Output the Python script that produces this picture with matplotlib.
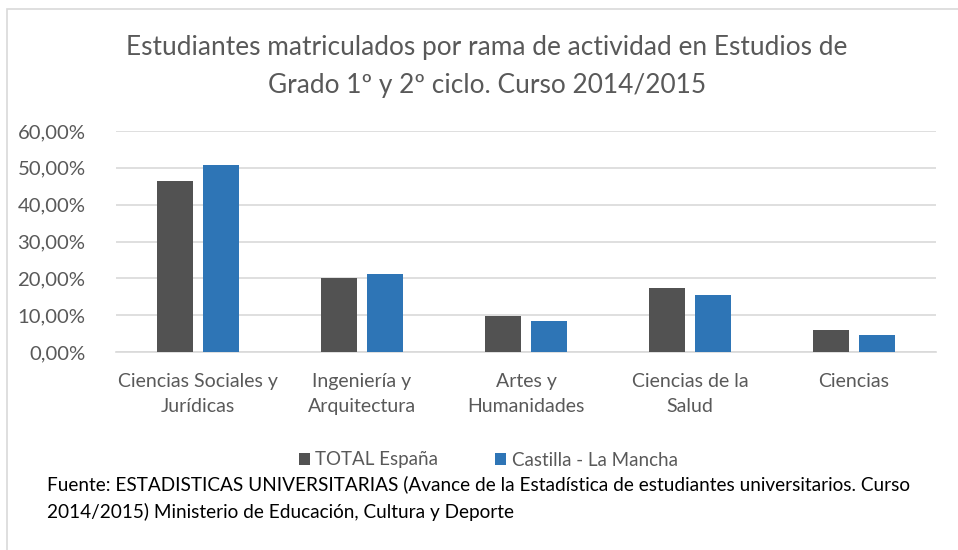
import numpy as np
import matplotlib.pyplot as plt
from matplotlib.patches import Rectangle

plt.rcParams['font.family'] = ['Lato', 'DejaVu Sans']

# -------------------------------
# Data
# -------------------------------
categories = ["Ciencias Sociales y\nJurídicas", "Ingeniería y\nArquitectura",
              "Artes y\nHumanidades", "Ciencias de la\nSalud", "Ciencias"]
total_espana = [0.465, 0.202, 0.099, 0.174, 0.059]
castilla_lm = [0.509, 0.211, 0.083, 0.154, 0.045]
yticks = [0.0, 0.1, 0.2, 0.3, 0.4, 0.5, 0.6]

title = ("Estudiantes matriculados por rama de actividad en Estudios de\n"
         "Grado 1º y 2º ciclo. Curso 2014/2015")
source = ("Fuente: ESTADISTICAS UNIVERSITARIAS (Avance de la Estadística de estudiantes universitarios. Curso\n"
          "2014/2015) Ministerio de Educación, Cultura y Deporte")

grey_txt = "#595959"
c_total = "#525252"
c_clm = "#2E75B6"

# -------------------------------
# Figure
# -------------------------------
W, H = 958, 550
fig = plt.figure(figsize=(W / 100, H / 100), dpi=100)

# chart frame (cropped on right/bottom)
fig.patches.append(Rectangle((7 / W, -0.1), 1.2, 1 - 9 / H + 0.1, transform=fig.transFigure,
                             fill=False, edgecolor="#d9d9d9", lw=1.2))

ax = fig.add_axes([116 / W, (H - 352) / H, (936 - 116) / W, (352 - 131) / H])

x = np.arange(len(categories))
bw = 0.222
off = 0.141
ax.bar(x - off, total_espana, bw, color=c_total, label="TOTAL España", zorder=3)
ax.bar(x + off, castilla_lm, bw, color=c_clm, label="Castilla - La Mancha", zorder=3)

ax.set_xlim(-0.5, len(categories) - 0.5)
ax.set_ylim(0, 0.6)
ax.set_yticks(yticks)
ax.set_yticklabels([f"{v*100:.2f}%".replace(".", ",") for v in yticks])
ax.yaxis.grid(True, color="#d9d9d9", lw=1.2, zorder=0)
for s in ["top", "right", "left"]:
    ax.spines[s].set_visible(False)
ax.spines["bottom"].set_color("#d9d9d9")
ax.spines["bottom"].set_linewidth(1.2)
ax.tick_params(axis="both", length=0, colors=grey_txt)
ax.tick_params(axis="y", pad=22, labelsize=14.6)
ax.set_xticks(x)
ax.set_xticklabels(categories, linespacing=1.55)
ax.tick_params(axis="x", pad=15, labelsize=14)

fig.text(487 / W, 1 - 66 / H, title, ha="center", va="center", fontsize=18.9,
         color=grey_txt, linespacing=1.65)

ax.legend(loc="center", bbox_to_anchor=(488 / W, 1 - 460 / H), bbox_transform=fig.transFigure,
          ncol=2, frameon=False, fontsize=13.5, labelcolor=grey_txt, handlelength=0.6,
          handleheight=0.6, handletextpad=0.3, columnspacing=3.0)

fig.text(47 / W, 1 - 498 / H, source, ha="left", va="center", fontsize=13.7,
         color="black", linespacing=1.6)

fig.savefig("out.png", dpi=100)
